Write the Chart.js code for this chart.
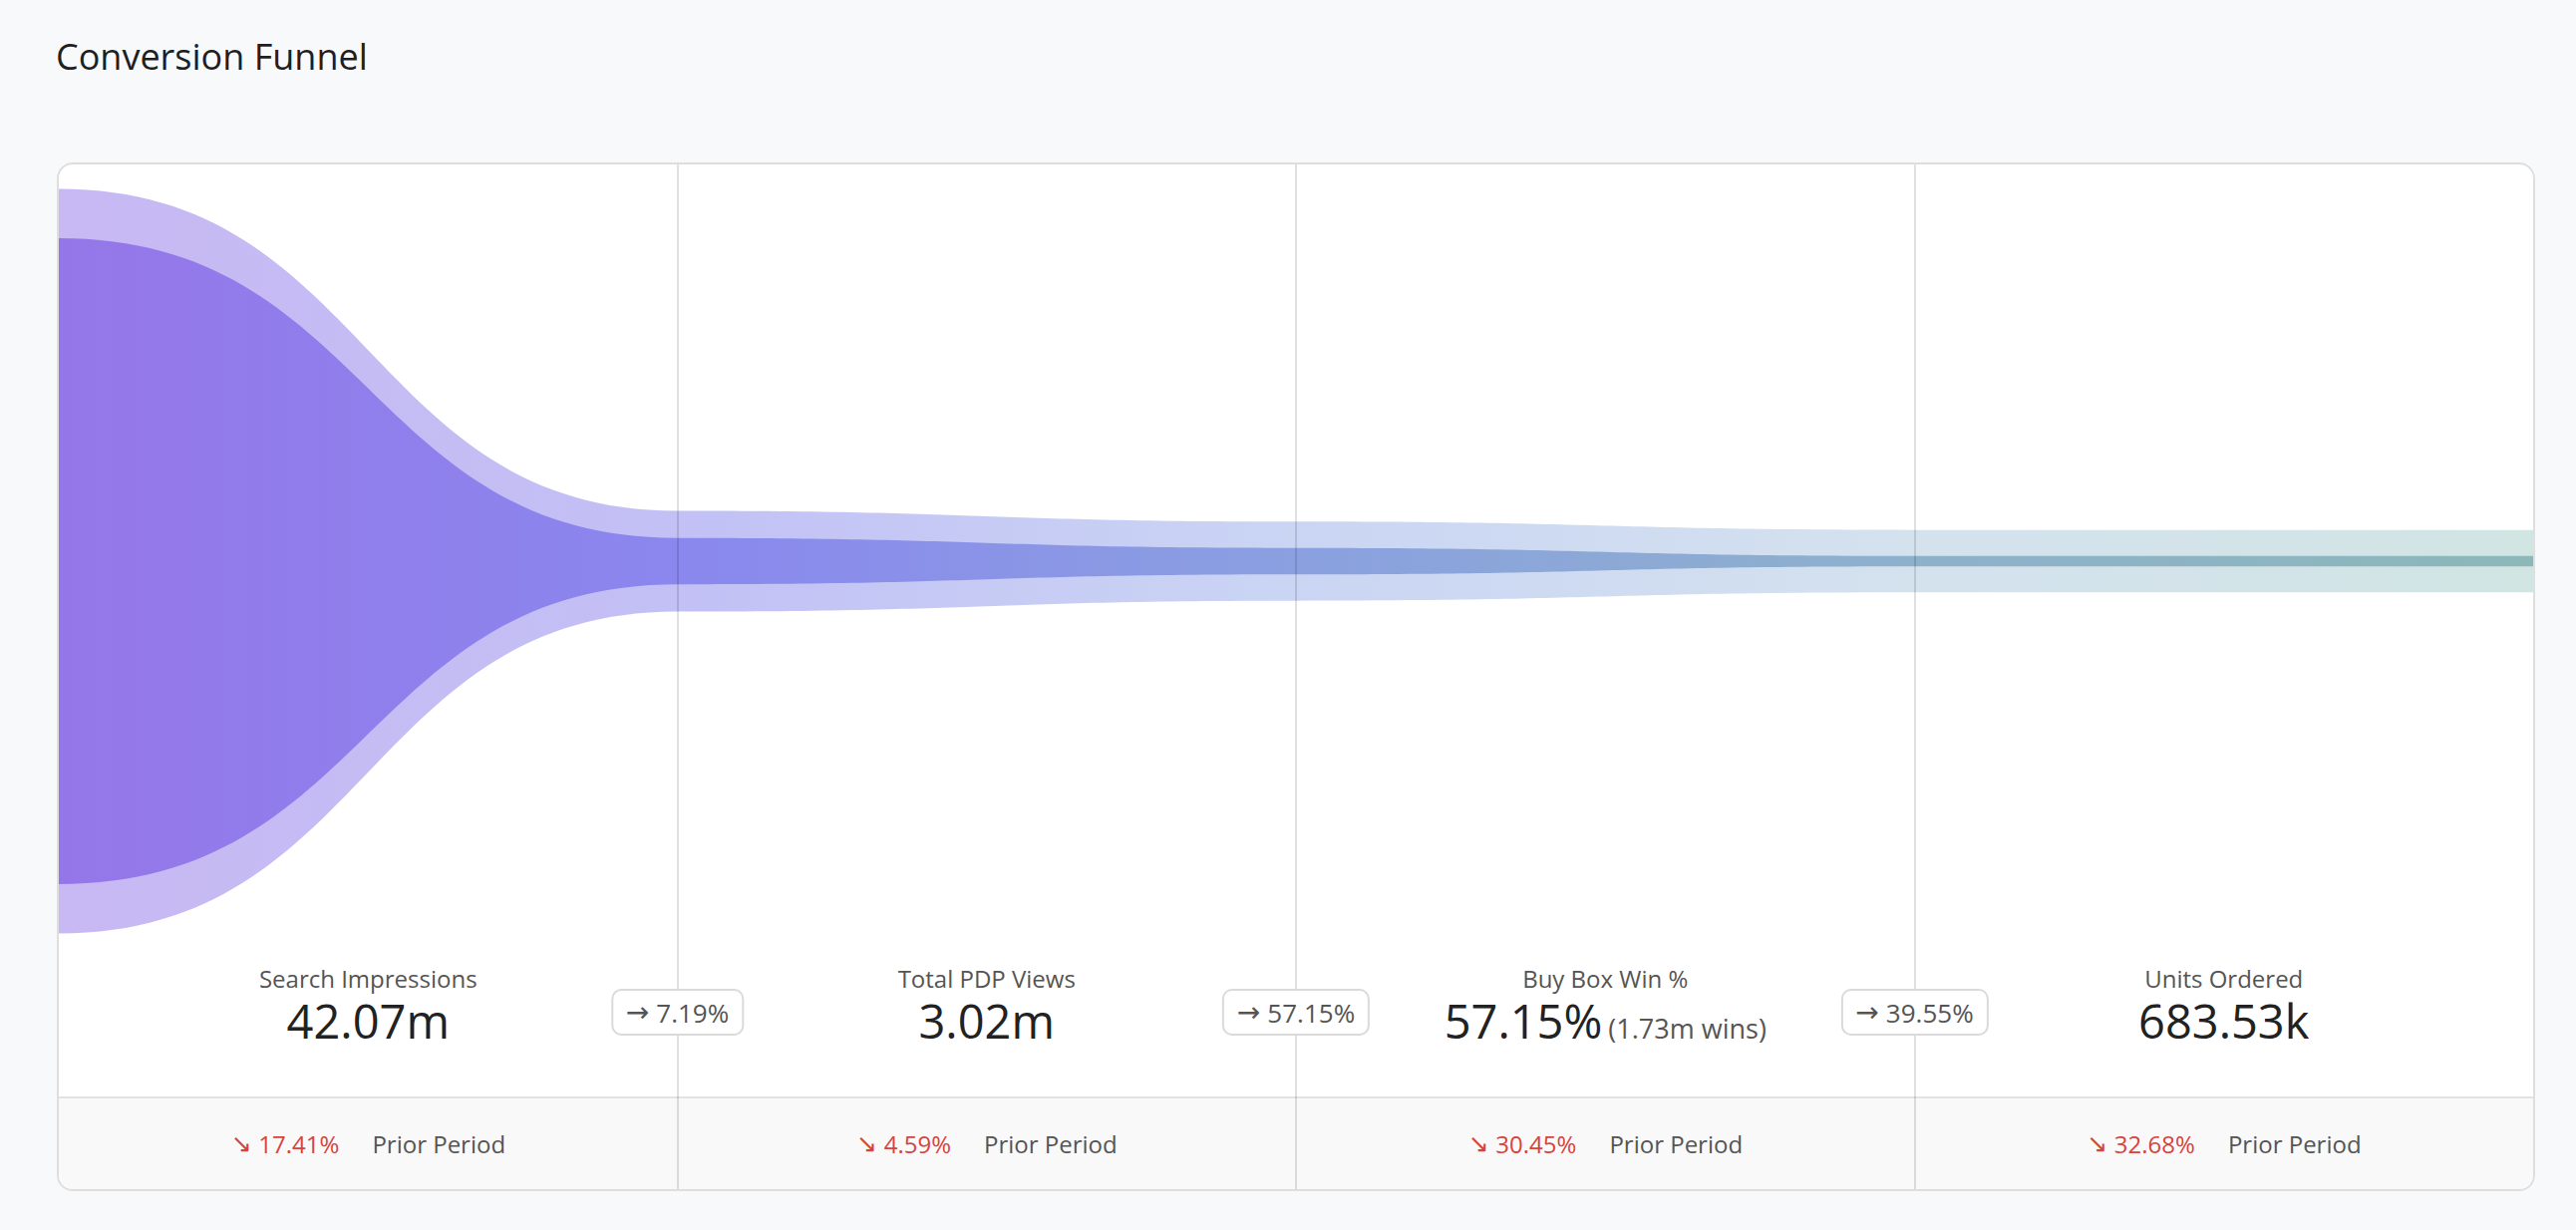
<!DOCTYPE html>
<html>
<head>
<meta charset="utf-8">
<script src="https://cdn.jsdelivr.net/npm/chart.js@4.4.1/dist/chart.umd.min.js"></script>
<style>
  html, body { margin: 0; padding: 0; }
  body { width: 2584px; height: 1234px; background: #f8f9fb; overflow: hidden; position: relative;
         font-family: "Open Sans", Lato, "Noto Sans", sans-serif; }
  #title { position: absolute; left: 56px; top: 39px; font-size: 36px; line-height: 36px; color: #1f1f1f; }
  #card { position: absolute; left: 57px; top: 163px; width: 2486px; height: 1032px; box-sizing: border-box;
          border: 2px solid #dedede; border-radius: 16px; background: #fff; overflow: hidden; }
  #funnel { position: absolute; left: 0; top: 0; }
  .cell { position: absolute; width: 620.5px; text-align: center; }
  .lbl { top: 805px; font-size: 24px; line-height: 24px; color: #555; }
  .val { top: 836px; font-size: 47px; line-height: 46px; color: #222; white-space: nowrap; }
  .val .sub { font-size: 27px; color: #555; margin-left: 6px; }
  #footer { position: absolute; left: 0; right: 0; top: 935px; height: 93px; box-sizing: border-box;
            border-top: 2px solid #e2e2e2; background: #f9f9f9; }
  .fcell { position: absolute; top: 0; bottom: 0; width: 620.5px; display: flex; align-items: center; justify-content: center;
           font-size: 24px; color: #555; }
  .chg { color: #d6443f; margin-right: 33px; display: flex; align-items: center; }
  .chg .arr { font-family: "DejaVu Sans", sans-serif; font-size: 25px; margin-right: 7px; }
  .divider { position: absolute; top: 0; bottom: 0; width: 2px; background: rgba(0,0,0,0.12); }
  .pill { position: absolute; top: 827px; height: 47px; box-sizing: border-box; transform: translateX(-50%);
          border: 2px solid #dadada; border-radius: 10px; background: #fff; padding: 0 13px;
          display: flex; align-items: center; font-size: 26px; color: #555; white-space: nowrap; }
  .pill .arr { font-family: "DejaVu Sans", sans-serif; font-size: 28px; margin-right: 7px; }
</style>
</head>
<body>
<div id="title">Conversion Funnel</div>
<div id="card">
  <canvas id="funnel" width="2482" height="796"></canvas>
</div>
<script>
// ---- Data ----
const stageLabels = ['Search Impressions', 'Total PDP Views', 'Buy Box Win %', 'Units Ordered'];
const stageValues = [42.07, 3.02, 1.73, 0.68353];          // funnel width (millions)
const haloValues = [48.5, 6.56, 5.15, 4.07];               // outer light band width (millions)
const valueLabels = ['42.07m', '3.02m', '57.15%', '683.53k'];
const valueSubLabels = ['', '', '(1.73m wins)', ''];
const stepRates = ['7.19%', '57.15%', '39.55%'];
const priorChanges = ['17.41%', '4.59%', '30.45%', '32.68%'];
const priorLabel = 'Prior Period';

// ---- HTML parts ----
const card = document.getElementById('card');
const COLW = 620.5;
stageLabels.forEach((l, i) => {
  const a = document.createElement('div'); a.className = 'cell lbl'; a.style.left = (i * COLW) + 'px'; a.textContent = l; card.appendChild(a);
  const v = document.createElement('div'); v.className = 'cell val'; v.style.left = (i * COLW) + 'px';
  v.textContent = valueLabels[i];
  if (valueSubLabels[i]) { const s = document.createElement('span'); s.className = 'sub'; s.textContent = valueSubLabels[i]; v.appendChild(s); }
  card.appendChild(v);
});
const footer = document.createElement('div'); footer.id = 'footer'; card.appendChild(footer);
priorChanges.forEach((c, i) => {
  const f = document.createElement('div'); f.className = 'fcell'; f.style.left = (i * COLW) + 'px';
  f.innerHTML = '<span class="chg"><span class="arr">↘</span>' + c + '</span><span>' + priorLabel + '</span>';
  footer.appendChild(f);
});
for (let i = 1; i < 4; i++) {
  const d = document.createElement('div'); d.className = 'divider'; d.style.left = (i * COLW - 1) + 'px'; card.appendChild(d);
}
stepRates.forEach((r, i) => {
  const p = document.createElement('div'); p.className = 'pill'; p.style.left = ((i + 1) * COLW) + 'px';
  p.innerHTML = '<span class="arr">→</span>' + r; card.appendChild(p);
});

// ---- Chart ----
const xs = stageValues.map((_, i) => i).concat([stageValues.length]);
const ext = a => a.concat([a[a.length - 1]]);
const half = (arr, sign) => ext(arr).map((v, i) => ({ x: xs[i], y: sign * v / 2 }));

const coreStops = [[0, '#9576e9'], [0.25, '#8a87ee'], [0.5, '#8aa0e0'], [0.75, '#8eb1cb'], [1, '#8db7b9']];
const haloStops = [[0, '#c8b8f3'], [0.25, '#c2c0f5'], [0.5, '#cad5f4'], [0.75, '#d4e2ee'], [1, '#d1e5e3']];

const funnelBands = {
  id: 'funnelBands',
  beforeDatasetsDraw(chart) {
    const ctx = chart.ctx, area = chart.chartArea;
    [[0, 1, haloStops], [2, 3, coreStops]].forEach(([ti, bi, stops]) => {
      const top = chart.getDatasetMeta(ti).data, bot = chart.getDatasetMeta(bi).data;
      const g = ctx.createLinearGradient(area.left, 0, area.right, 0);
      stops.forEach(s => g.addColorStop(s[0], s[1]));
      ctx.save();
      ctx.beginPath();
      ctx.moveTo(top[0].x, top[0].y);
      for (let i = 1; i < top.length; i++) {
        const p = top[i - 1], q = top[i], mx = (p.x + q.x) / 2;
        ctx.bezierCurveTo(mx, p.y, mx, q.y, q.x, q.y);
      }
      ctx.lineTo(bot[bot.length - 1].x, bot[bot.length - 1].y);
      for (let i = bot.length - 1; i > 0; i--) {
        const p = bot[i], q = bot[i - 1], mx = (p.x + q.x) / 2;
        ctx.bezierCurveTo(mx, p.y, mx, q.y, q.x, q.y);
      }
      ctx.closePath();
      ctx.fillStyle = g;
      ctx.fill();
      ctx.restore();
    });
  }
};

const ds = (label, data) => ({ label, data, showLine: false, pointRadius: 0, pointHoverRadius: 0, borderWidth: 0 });
new Chart(document.getElementById('funnel'), {
  type: 'line',
  data: {
    datasets: [
      ds('halo top', half(haloValues, 1)),
      ds('halo bottom', half(haloValues, -1)),
      ds('value top', half(stageValues, 1)),
      ds('value bottom', half(stageValues, -1))
    ]
  },
  options: {
    responsive: false,
    animation: false,
    devicePixelRatio: 1,
    layout: { padding: 0 },
    plugins: { legend: { display: false }, tooltip: { enabled: false } },
    scales: {
      x: { type: 'linear', min: 0, max: 4, display: false },
      y: { type: 'linear', min: -25.84, max: 25.84, display: false }
    }
  },
  plugins: [funnelBands]
});
</script>
</body>
</html>
